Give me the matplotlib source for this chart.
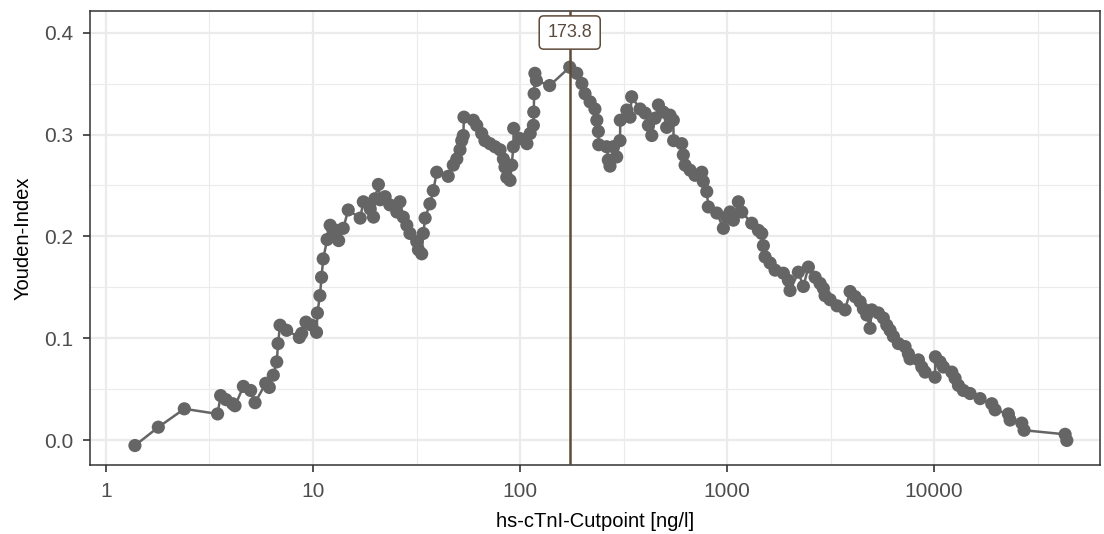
import numpy as np
import matplotlib
matplotlib.use('Agg')
import matplotlib.pyplot as plt
from matplotlib.ticker import FixedLocator, FixedFormatter, NullFormatter

plt.rcParams['font.family'] = ['Liberation Sans', 'DejaVu Sans']

# Cutpoints (ng/l) and Youden index
cutpoint = [
    1.38, 1.79, 2.39, 3.46, 3.58, 3.80, 4.09, 4.20, 4.61, 5.00,
    5.25, 5.91, 6.15, 6.43, 6.68, 6.78, 6.93, 7.46, 8.59, 8.82,
    9.25, 9.86, 10.4, 10.5, 10.8, 11.0, 11.2, 11.7, 12.1, 12.5,
    13.0, 13.3, 14.0, 14.8, 16.9, 17.5, 18.9, 19.6, 19.9, 20.7,
    21.1, 22.3, 23.5, 25.4, 26.3, 27.3, 28.4, 29.4, 31.7, 32.3,
    33.5, 34.1, 34.8, 36.7, 38.1, 39.6, 45.0, 47.6, 49.5, 51.3,
    52.3, 53.2, 53.6, 59.5, 61.8, 65.3, 67.7, 71.6, 75.7, 80.1,
    83.1, 84.6, 86.3, 89.5, 91.2, 92.8, 93.2, 100, 108, 112,
    116, 116.5, 117, 118, 120, 139, 173.8, 188, 199, 206,
    218, 230, 235, 239, 240, 262, 267, 272, 282, 293,
    304, 305, 328, 340, 346, 380, 402, 417, 433, 449,
    466, 492, 511, 530, 550, 552, 604, 615, 627, 663,
    700, 755, 768, 798, 812, 892, 960, 997, 1034, 1073,
    1134, 1178, 1316, 1417, 1471, 1498, 1526, 1614, 1706, 1871,
    1978, 2015, 2210, 2337, 2471, 2662, 2814, 2919, 2975, 3145,
    3400, 3716, 3929, 4154, 4391, 4555, 4731, 4907, 5000, 5382,
    5689, 5909, 6130, 6360, 6723, 7241, 7512, 7656, 8400, 8723,
    9048, 10110, 10150, 10690, 11090, 12180, 12630, 13110, 13850, 14920,
    16680, 18990, 19710, 22850, 23290, 26530, 27210, 42950, 43770,
]
youden = [
    -0.005, 0.013, 0.031, 0.026, 0.044, 0.040, 0.036, 0.034, 0.053, 0.049,
    0.037, 0.056, 0.052, 0.064, 0.077, 0.095, 0.113, 0.108, 0.101, 0.105,
    0.116, 0.113, 0.106, 0.125, 0.142, 0.160, 0.178, 0.197, 0.211, 0.205,
    0.206, 0.196, 0.208, 0.226, 0.218, 0.234, 0.227, 0.219, 0.237, 0.251,
    0.236, 0.239, 0.231, 0.224, 0.234, 0.219, 0.211, 0.203, 0.195, 0.187,
    0.183, 0.203, 0.218, 0.232, 0.245, 0.263, 0.259, 0.270, 0.276, 0.285,
    0.294, 0.299, 0.317, 0.314, 0.309, 0.301, 0.294, 0.291, 0.288, 0.285,
    0.276, 0.268, 0.258, 0.255, 0.270, 0.288, 0.306, 0.296, 0.291, 0.301,
    0.309, 0.322, 0.340, 0.360, 0.353, 0.348, 0.366, 0.360, 0.350, 0.340,
    0.332, 0.325, 0.314, 0.303, 0.290, 0.288, 0.275, 0.269, 0.288, 0.278,
    0.294, 0.314, 0.324, 0.317, 0.337, 0.325, 0.321, 0.309, 0.299, 0.316,
    0.329, 0.322, 0.307, 0.319, 0.314, 0.294, 0.291, 0.280, 0.270, 0.265,
    0.260, 0.263, 0.254, 0.244, 0.229, 0.223, 0.208, 0.219, 0.224, 0.216,
    0.234, 0.224, 0.213, 0.206, 0.203, 0.191, 0.180, 0.174, 0.167, 0.164,
    0.157, 0.147, 0.165, 0.151, 0.170, 0.160, 0.154, 0.149, 0.142, 0.138,
    0.132, 0.128, 0.146, 0.141, 0.136, 0.129, 0.123, 0.110, 0.128, 0.125,
    0.120, 0.113, 0.108, 0.102, 0.095, 0.092, 0.085, 0.080, 0.079, 0.072,
    0.067, 0.062, 0.082, 0.077, 0.072, 0.067, 0.061, 0.054, 0.049, 0.046,
    0.041, 0.036, 0.030, 0.026, 0.020, 0.017, 0.010, 0.006, 0.000,
]
best_cutpoint = 173.8

x_major = [1, 10, 100, 1000, 10000]
x_labels = ['1', '10', '100', '1000', '10000']
y_major = [0.0, 0.1, 0.2, 0.3, 0.4]
y_labels = ['0.0', '0.1', '0.2', '0.3', '0.4']

point_col = '#656565'
line_col = '#5e4b3a'

fig = plt.figure(figsize=(11.04, 5.34), dpi=100)
ax = fig.add_axes([0.0815, 0.129, 0.915, 0.850])

ax.plot(cutpoint, youden, color=point_col, linewidth=1.8, zorder=3)
ax.scatter(cutpoint, youden, s=90, color=point_col, edgecolors='none', zorder=4)

ax.axvline(best_cutpoint, color=line_col, linewidth=1.8, zorder=5)
ax.text(best_cutpoint, 0.40, f'{best_cutpoint}', ha='center', va='center',
        fontsize=13, color='#5a4a3c', zorder=6,
        bbox=dict(boxstyle='round,pad=0.45,rounding_size=0.25', fc='white',
                  ec=line_col, lw=1.1))

ax.set_xscale('log')
ax.set_xlim(0.837, 63400)
ax.set_ylim(-0.0242, 0.4209)

ax.xaxis.set_major_locator(FixedLocator(x_major))
ax.xaxis.set_major_formatter(FixedFormatter(x_labels))
ax.xaxis.set_minor_locator(FixedLocator([10 ** (k + 0.5) for k in range(0, 5)]))
ax.xaxis.set_minor_formatter(NullFormatter())
ax.yaxis.set_major_locator(FixedLocator(y_major))
ax.yaxis.set_major_formatter(FixedFormatter(y_labels))
ax.yaxis.set_minor_locator(FixedLocator([0.05, 0.15, 0.25, 0.35]))

# theme_bw look
ax.set_facecolor('white')
ax.grid(True, which='major', color='#ebebeb', linewidth=1.6, zorder=0)
ax.grid(True, which='minor', color='#ebebeb', linewidth=0.8, zorder=0)
ax.set_axisbelow(True)
for sp in ax.spines.values():
    sp.set_color('#333333')
    sp.set_linewidth(1.1)
ax.tick_params(axis='both', which='major', length=5, width=1.2, color='#333333',
               labelsize=15, labelcolor='#4d4d4d', pad=7)
ax.tick_params(axis='both', which='minor', length=0)

ax.set_xlabel('hs-cTnI-Cutpoint [ng/l]', fontsize=14.5, labelpad=8)
ax.set_ylabel('Youden-Index', fontsize=14.5, labelpad=8)

plt.savefig('out.png', dpi=100)
plt.close()
